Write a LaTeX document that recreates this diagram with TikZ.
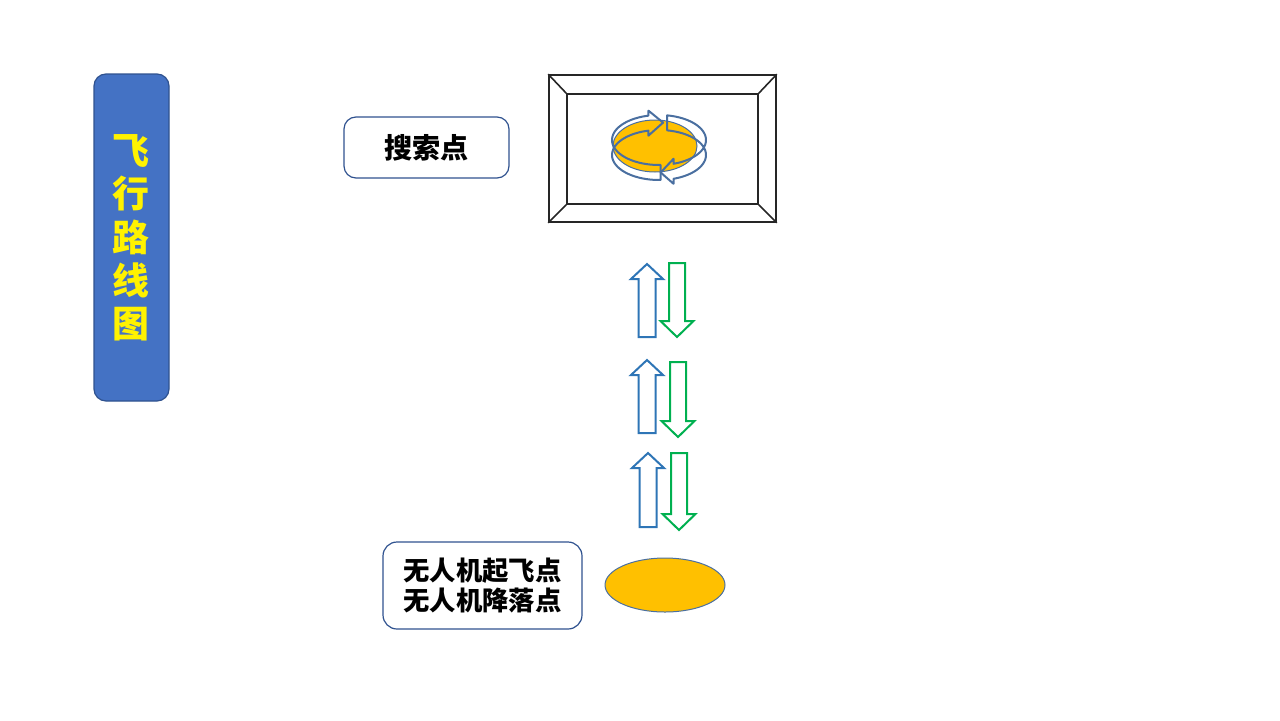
\documentclass[tikz,border=0pt]{standalone}
\usepackage{fontspec}
\usepackage{tikz}
\usetikzlibrary{shapes.geometric}
\newfontfamily\cjk{Noto Sans CJK SC}
\newcommand\pxl{0.02cm}
\definecolor{azulbarra}{HTML}{4472C4}
\definecolor{azulborde}{HTML}{2F528F}
\definecolor{naranja}{HTML}{FFC000}
\definecolor{azulanillo}{HTML}{4A6FA0}
\definecolor{azulflecha}{HTML}{2E75B6}
\definecolor{verdeflecha}{HTML}{00B050}

\begin{document}
\begin{tikzpicture}[x=0.02cm,y=-0.02cm,
	caja/.style={draw=azulborde,line width=1.2*\pxl,rounded corners=12*\pxl,inner sep=0pt,font=\cjk\bfseries\fontsize{15}{17.6}\selectfont,align=center},
	marco/.style={draw=black!85,line width=1.6*\pxl,inner sep=0pt},
	anillo/.style={draw=azulanillo,line width=2*\pxl,line join=round},
	subir/.style={draw=azulflecha,line width=2*\pxl,line join=miter},
	bajar/.style={draw=verdeflecha,line width=2*\pxl,line join=miter}]
		\useasboundingbox (0,0) rectangle (1280,720);
		%Nodos
		\node [draw=azulborde,fill=azulbarra,line width=1.2*\pxl,rounded corners=12*\pxl,minimum width=75*\pxl,minimum height=327*\pxl,inner sep=0pt] (barra) at (131.5,237.5) {};
		\node [text=yellow,font=\cjk\bfseries\fontsize{21}{24.6}\selectfont,align=center] (titulo) at (131,238) {飞\\行\\路\\线\\图};
		\node [caja,minimum width=165*\pxl,minimum height=61*\pxl,font=\cjk\bfseries\fontsize{16}{19}\selectfont] (busca) at (426.5,147.5) {搜索点};
		\node [caja,rounded corners=14*\pxl,minimum width=199*\pxl,minimum height=87*\pxl] (texto) at (482.5,585.5) {无人机起飞点\\无人机降落点};
		\node [marco,minimum width=227*\pxl,minimum height=147*\pxl] (marco) at (662.5,148.5) {};
		\node [marco,minimum width=191*\pxl,minimum height=110*\pxl] (marcoin) at (662.5,149) {};
		\node [ellipse,draw=azulanillo,fill=naranja,line width=1*\pxl,minimum width=84*\pxl,minimum height=52*\pxl,inner sep=0pt] (objetivo) at (655,146) {};
		\node [ellipse,draw=azulanillo,fill=naranja,line width=1*\pxl,minimum width=120*\pxl,minimum height=54*\pxl,inner sep=0pt] (base) at (665,585) {};

		%Marco
		\foreach \e in {north west,north east,south west,south east}
			\draw[marco] (marco.\e)--(marcoin.\e);

		%Anillo
		\foreach \ta/\tb/\tc in {272/103/85,80/-72/-88}
			\draw[anillo] plot[domain=\ta:\tb,samples=40] ({659+47*cos(\x)},{140-25*sin(\x)})
				-- ({659+47*cos(\tb)},{135-25*sin(\tb)})
				-- ({659+47*cos(\tc)},{147.5-25*sin(\tc)})
				-- ({659+47*cos(\tb)},{160-25*sin(\tb)})
				-- plot[domain=\tb:\ta,samples=40] ({659+47*cos(\x)},{155-25*sin(\x)}) -- cycle;

		%Flechas
		\foreach \bx/\bt/\bb/\gx/\gt/\gb in {647/264/337/677/263/337,647/360/433/678/362/437,648/453/527/679/453/530}{
			\draw[subir] (\bx-8.5,\bb) -- (\bx-8.5,\bt+15) -- (\bx-16,\bt+15) -- (\bx,\bt) -- (\bx+16,\bt+15) -- (\bx+8.5,\bt+15) -- (\bx+8.5,\bb) -- cycle;
			\draw[bajar] (\gx-8,\gt) -- (\gx-8,\gb-16) -- (\gx-16.5,\gb-16) -- (\gx,\gb) -- (\gx+16.5,\gb-16) -- (\gx+8,\gb-16) -- (\gx+8,\gt) -- cycle;
		}
\end{tikzpicture}
\end{document}
